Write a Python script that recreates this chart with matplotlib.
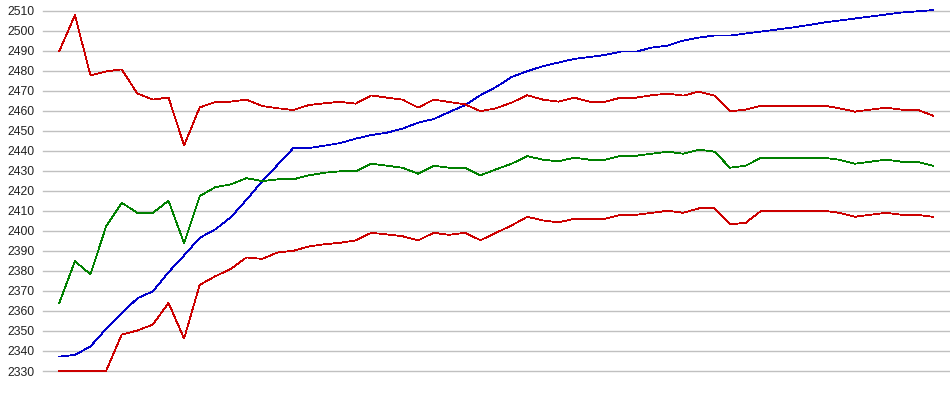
import matplotlib
matplotlib.use('Agg')
import matplotlib.pyplot as plt
import numpy as np

# values, one per step (57 steps)
upper = [2489.7, 2507.7, 2477.6, 2479.6, 2480.6, 2468.6, 2465.5, 2466.6, 2442.6, 2461.6,
         2464.3, 2464.5, 2465.5, 2462.3, 2461.2, 2460.3, 2462.8, 2463.7, 2464.4, 2463.5,
         2467.6, 2466.5, 2465.5, 2461.5, 2465.5, 2464.3, 2463.2, 2459.7, 2461.2, 2464.0,
         2467.7, 2465.5, 2464.5, 2466.5, 2464.5, 2464.5, 2466.5, 2466.5, 2467.7, 2468.5,
         2467.5, 2469.5, 2467.5, 2459.7, 2460.5, 2462.5, 2462.5, 2462.5, 2462.5, 2462.5,
         2461.2, 2459.5, 2460.5, 2461.5, 2460.5, 2460.5, 2457.5]
middle = [2364.0, 2384.8, 2378.3, 2402.2, 2414.0, 2409.0, 2409.0, 2415.0, 2393.8, 2417.3,
          2421.8, 2423.2, 2426.3, 2424.8, 2425.7, 2425.7, 2427.7, 2429.0, 2429.7, 2429.7,
          2433.5, 2432.5, 2431.5, 2428.5, 2432.5, 2431.5, 2431.5, 2427.7, 2430.7, 2433.5,
          2437.3, 2435.5, 2434.7, 2436.5, 2435.5, 2435.5, 2437.5, 2437.5, 2438.5, 2439.5,
          2438.5, 2440.5, 2439.5, 2431.5, 2432.5, 2436.5, 2436.5, 2436.5, 2436.5, 2436.5,
          2435.5, 2433.5, 2434.5, 2435.5, 2434.5, 2434.5, 2432.5]
lower = [2330.0, 2330.0, 2330.0, 2330.0, 2348.2, 2350.2, 2353.2, 2364.0, 2346.2, 2373.0,
         2377.3, 2381.0, 2386.7, 2386.0, 2389.2, 2390.0, 2392.2, 2393.3, 2394.0, 2395.2,
         2399.0, 2398.2, 2397.3, 2395.2, 2399.0, 2398.0, 2399.0, 2395.3, 2399.0, 2402.7,
         2407.0, 2405.2, 2404.2, 2406.0, 2406.0, 2406.0, 2408.0, 2408.0, 2409.0, 2410.0,
         2409.0, 2411.2, 2411.2, 2403.2, 2404.0, 2410.0, 2410.0, 2410.0, 2410.0, 2410.0,
         2409.0, 2407.0, 2408.0, 2409.0, 2408.0, 2408.0, 2407.0]
blue = [2337.2, 2338.0, 2342.3, 2351.0, 2358.7, 2366.3, 2369.8, 2379.3, 2387.7, 2396.5,
        2400.7, 2406.8, 2415.5, 2424.7, 2433.0, 2441.3, 2441.3, 2442.5, 2443.8, 2446.0,
        2447.8, 2449.0, 2451.0, 2454.0, 2455.8, 2459.3, 2462.7, 2467.7, 2471.8, 2476.8,
        2479.7, 2482.2, 2484.0, 2485.8, 2486.8, 2487.8, 2489.5, 2489.5, 2491.5, 2492.5,
        2495.0, 2496.5, 2497.5, 2497.5, 2498.5, 2499.5, 2500.5, 2501.5, 2502.7, 2504.0,
        2505.0, 2506.0, 2507.0, 2508.0, 2509.0, 2509.6, 2510.2]
yticks = list(range(2330, 2511, 10))

x = np.arange(len(upper))

fig = plt.figure(figsize=(9.5, 3.95), dpi=100)
ax = fig.add_axes([43 / 950, 1 - 371 / 395, 1 - 43 / 950, (371 - 10.5) / 395])

for yv in yticks:
    ax.axhline(yv, color='#c0c0c0', lw=1.0, zorder=0, clip_on=False)

lw = 0.55
for ys, c in [(blue, '#0000cc'), (upper, '#cc0000'), (middle, '#008000'), (lower, '#cc0000')]:
    ax.plot(x, ys, color=c, lw=lw, antialiased=False, clip_on=False)

ax.set_xlim(-1.045, 57.1)
ax.set_ylim(2330, 2510)
ax.set_yticks(yticks)
ax.set_yticklabels([str(v) for v in yticks], fontsize=8.8, color='#222222',
                   family='Liberation Sans')
ax.tick_params(axis='y', length=0, pad=6)
ax.set_xticks([])
for s in ax.spines.values():
    s.set_visible(False)
ax.patch.set_alpha(0)

fig.savefig('out.png', dpi=100)
